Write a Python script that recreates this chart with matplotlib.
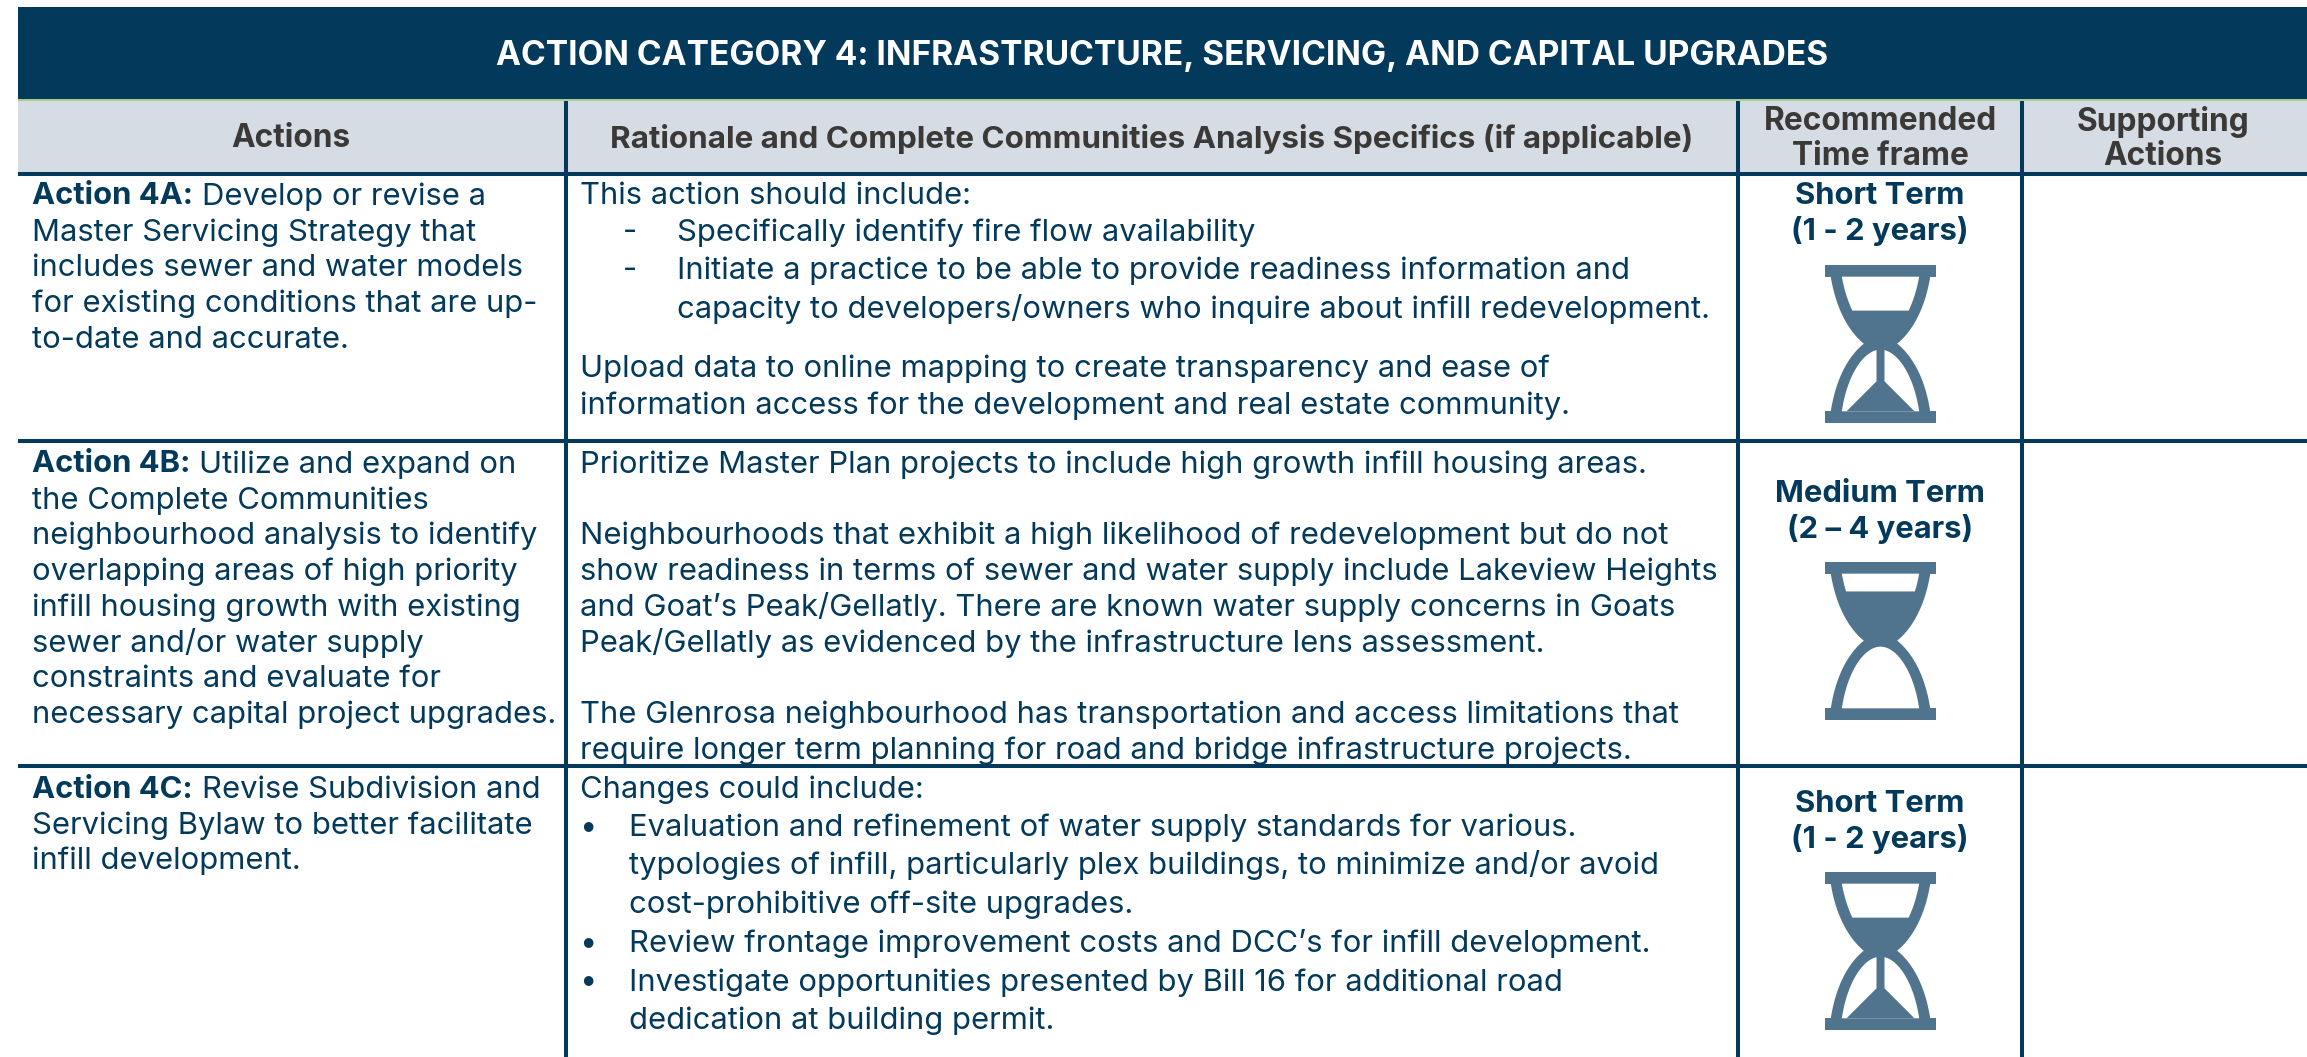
import numpy as np
import matplotlib
matplotlib.use("Agg")
import matplotlib.pyplot as plt
from matplotlib.patches import Rectangle, Polygon

W, H = 2307, 1057
FONT = "Inter"
DARK = "#03395A"
GREY = "#3B3838"
ICON = "#50748D"
BAND = "#D5DCE4"
GREEN = "#A9D18E"
BODY = 22.3
HEAD = 22.8
DY = 2.5
LEFT = 18

title = "ACTION CATEGORY 4: INFRASTRUCTURE, SERVICING, AND CAPITAL UPGRADES"
headers = ["Actions", "Rationale and Complete Communities Analysis Specifics (if applicable)",
           "Recommended\nTime frame", "Supporting\nActions"]
col_edges = [LEFT, 566, 1738, 2022, 2307]
row_lines = [174, 441, 766]

actions = [
    ("Action 4A:", [" Develop or revise a", "Master Servicing Strategy that", "includes sewer and water models",
                    "for existing conditions that are up-", "to-date and accurate."]),
    ("Action 4B:", [" Utilize and expand on", "the Complete Communities", "neighbourhood analysis to identify",
                    "overlapping areas of high priority", "infill housing growth with existing",
                    "sewer and/or water supply", "constraints and evaluate for", "necessary capital project upgrades."]),
    ("Action 4C:", [" Revise Subdivision and", "Servicing Bylaw to better facilitate", "infill development."]),
]
action_y = [194, 462, 787]

# (text, y, x, marker)
rationale = [
    ("This action should include:", 194, 580, None),
    ("Specifically identify fire flow availability", 230, 677, "-"),
    ("Initiate a practice to be able to provide readiness information and", 268, 677, "-"),
    ("capacity to developers/owners who inquire about infill redevelopment.", 307, 677, None),
    ("Upload data to online mapping to create transparency and ease of", 366, 580, None),
    ("information access for the development and real estate community.", 403, 580, None),
    ("Prioritize Master Plan projects to include high growth infill housing areas.", 462, 580, None),
    ("Neighbourhoods that exhibit a high likelihood of redevelopment but do not", 533, 580, None),
    ("show readiness in terms of sewer and water supply include Lakeview Heights", 569, 580, None),
    ("and Goat’s Peak/Gellatly. There are known water supply concerns in Goats", 605, 580, None),
    ("Peak/Gellatly as evidenced by the infrastructure lens assessment.", 641, 580, None),
    ("The Glenrosa neighbourhood has transportation and access limitations that", 712, 580, None),
    ("require longer term planning for road and bridge infrastructure projects.", 748, 580, None),
    ("Changes could include:", 787, 580, None),
    ("Evaluation and refinement of water supply standards for various.", 825, 629, "•"),
    ("typologies of infill, particularly plex buildings, to minimize and/or avoid", 862, 629, None),
    ("cost-prohibitive off-site upgrades.", 902, 629, None),
    ("Review frontage improvement costs and DCC’s for infill development.", 941, 629, "•"),
    ("Investigate opportunities presented by Bill 16 for additional road", 980, 629, "•"),
    ("dedication at building permit.", 1018, 629, None),
]

terms = [("Short Term\n(1 - 2 years)", 194, 229, 265, 142, True),
         ("Medium Term\n(2 – 4 years)", 491, 526, 562, 89, False),
         ("Short Term\n(1 - 2 years)", 801, 837, 872, 142, True)]

fig = plt.figure(figsize=(W / 100, H / 100), dpi=100)
ax = fig.add_axes([0, 0, 1, 1])
ax.set_xlim(0, W)
ax.set_ylim(H, 0)
ax.axis("off")

ax.add_patch(Rectangle((LEFT, 7), W - LEFT, 93, fc=DARK, ec="none"))
ax.add_patch(Rectangle((LEFT, 100), W - LEFT, 73, fc=BAND, ec="none"))
ax.plot([LEFT, W], [100, 100], color=GREEN, lw=1.4, solid_capstyle="butt")
for y in row_lines:
    ax.plot([LEFT, W], [y, y], color=DARK, lw=2.9, solid_capstyle="butt")
for x in col_edges[1:4]:
    ax.plot([x, x], [101, H], color=DARK, lw=2.9, solid_capstyle="butt")

ax.text(1162, 53 + DY, title, color="white", fontsize=24.1, fontweight="bold", family=FONT, ha="center", va="center")
ax.text(291, 136 + DY, headers[0], color=GREY, fontsize=HEAD, fontweight="bold", family=FONT, ha="center", va="center")
ax.text(1152, 136 + DY, headers[1], color=GREY, fontsize=22.6, fontweight="bold", family=FONT, ha="center", va="center")
for cx, label in [(1880, headers[2]), (2163, headers[3])]:
    a, b = label.split("\n")
    ax.text(cx, 119 + DY, a, color=GREY, fontsize=HEAD, fontweight="bold", family=FONT, ha="center", va="center")
    ax.text(cx, 154 + DY, b, color=GREY, fontsize=HEAD, fontweight="bold", family=FONT, ha="center", va="center")

fig.canvas.draw()
rend = fig.canvas.get_renderer()
for (lead, lines), y0 in zip(actions, action_y):
    y0 += DY
    t = ax.text(32, y0, lead, color=DARK, fontsize=BODY, fontweight="bold", family=FONT, va="center")
    x1 = ax.transData.inverted().transform(t.get_window_extent(rend))[1, 0]
    ax.text(x1 + 9, y0, lines[0].strip(), color=DARK, fontsize=BODY, family=FONT, va="center")
    for i, s in enumerate(lines[1:], 1):
        ax.text(32, y0 + i * 35.8, s, color=DARK, fontsize=BODY, family=FONT, va="center")

for s, y, x, m in rationale:
    ax.text(x, y + DY, s, color=DARK, fontsize=BODY, family=FONT, va="center")
    if m:
        ax.text(630 if m == "-" else 588, y + DY, m, color=DARK, fontsize=BODY, family=FONT, va="center", ha="center")


def bez(p0, p1, p2, p3, n=40):
    t = np.linspace(0, 1, n)[:, None]
    p0, p1, p2, p3 = map(np.array, (p0, p1, p2, p3))
    return (1 - t) ** 3 * p0 + 3 * (1 - t) ** 2 * t * p1 + 3 * (1 - t) * t ** 2 * p2 + t ** 3 * p3


def glass(cx, top, level, stream):
    """Hourglass icon, in units of one third of a pixel from its top centre."""
    k = 1 / 3
    def P(pts, **kw):
        pts = np.asarray(pts) * k + [cx, top]
        ax.add_patch(Polygon(pts, closed=True, ec="none", **kw))
    left = np.vstack([bez((-150, 30), (-135, 130), (-95, 200), (-50, 236)),
                      bez((-50, 236), (-95, 272), (-135, 340), (-150, 445))])
    P(np.vstack([left, (left * [-1, 1])[::-1]]), fc=ICON)
    P([(-166, 0), (166, 0), (166, 35), (-166, 35)], fc=ICON)
    P([(-166, 439), (166, 439), (166, 474), (-166, 474)], fc=ICON)
    inner = bez((-116, 35), (-100, 125), (-60, 200), (0, 240))
    inner = inner[inner[:, 1] <= level]
    P(np.vstack([inner, (inner * [-1, 1])[::-1]]), fc="white")
    arch = bez((-116, 439), (-100, 330), (-50, 254), (0, 254))
    P(np.vstack([arch, (arch * [-1, 1])[::-1]]), fc="white")
    if stream:
        P([(-12, 250), (12, 250), (12, 349), (102, 439), (-102, 439), (-12, 349)], fc=ICON)


for label, y1, y2, top, level, stream in terms:
    a, b = label.split("\n")
    ax.text(1880, y1 + DY, a, color=DARK, fontsize=BODY, fontweight="bold", family=FONT, ha="center", va="center")
    ax.text(1880, y2 + DY, b, color=DARK, fontsize=BODY, fontweight="bold", family=FONT, ha="center", va="center")
    glass(1880.5, top, level, stream)

fig.savefig("out.png", dpi=100, facecolor="white")
